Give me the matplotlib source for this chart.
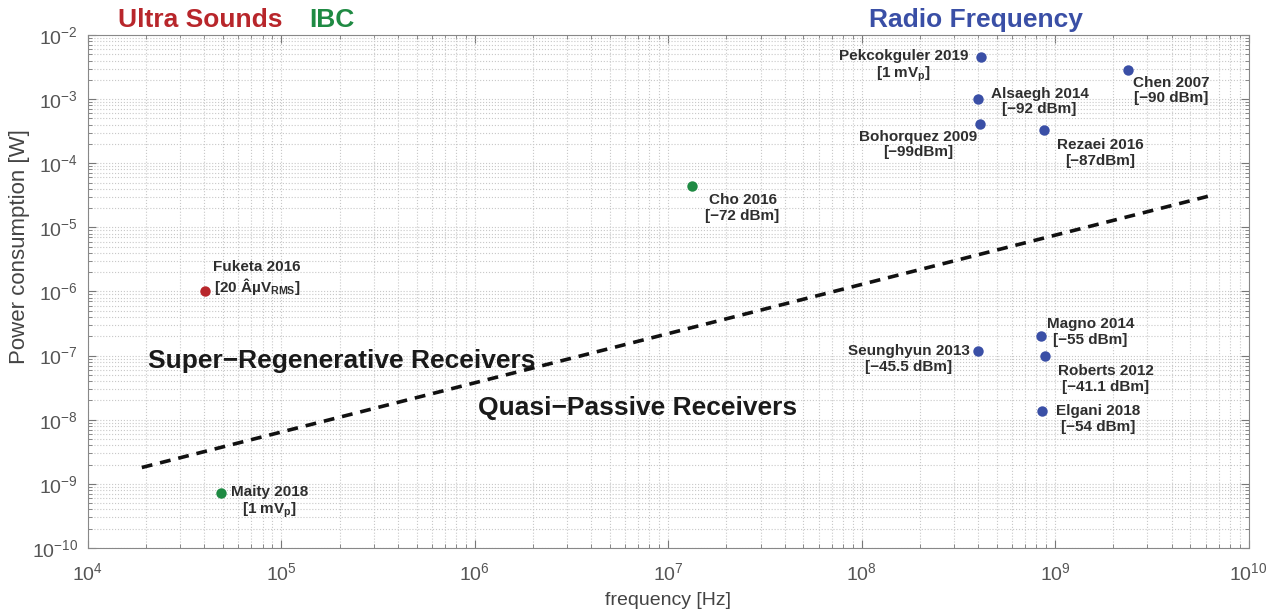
import math
import matplotlib
matplotlib.use("Agg")
import matplotlib.pyplot as plt
from matplotlib.ticker import LogLocator, FuncFormatter, NullFormatter

plt.rcParams['font.family'] = ['Liberation Sans', 'DejaVu Sans']
plt.rcParams['mathtext.fontset'] = 'custom'
plt.rcParams['mathtext.rm'] = 'Liberation Sans'
plt.rcParams['mathtext.bf'] = 'Liberation Sans:bold'
plt.rcParams['mathtext.it'] = 'Liberation Sans:italic'

# ---- data ----
us_names = ["Fuketa 2016\n[20 Âµ$\\mathbf{V}_{\\mathbf{RMS}}$]"]
us_freq = [4.03e4]
us_power = [1.0e-6]

ibc_names = ["Cho 2016\n[\u221272 dBm]", "Maity 2018\n[1 m$\\mathbf{V}_{\\mathbf{p}}$]"]
ibc_freq = [1.32e7, 4.9e4]
ibc_power = [4.4e-5, 7.2e-10]

rf_names = ["Pekcokguler 2019\n[1 m$\\mathbf{V}_{\\mathbf{p}}$]",
            "Alsaegh 2014\n[\u221292 dBm]",
            "Bohorquez 2009\n[\u221299dBm]",
            "Rezaei 2016\n[\u221287dBm]",
            "Chen 2007\n[\u221290 dBm]",
            "Seunghyun 2013\n[\u221245.5 dBm]",
            "Magno 2014\n[\u221255 dBm]",
            "Roberts 2012\n[\u221241.1 dBm]",
            "Elgani 2018\n[\u221254 dBm]"]
rf_freq = [4.12e8, 4.0e8, 4.1e8, 8.8e8, 2.37e9, 4.0e8, 8.5e8, 8.9e8, 8.6e8]
rf_power = [4.5e-3, 1.0e-3, 4.1e-4, 3.3e-4, 2.85e-3, 1.17e-7, 2.0e-7, 1.0e-7, 1.36e-8]

border_freq = [1.9e4, 6.3e9]
border_power = [1.8e-9, 3.1e-5]

# label placement: (dx, dy in points, ha, va)
us_place = [(6, -4, 'left', 'bottom')]
ibc_place = [(10, -5, 'left', 'top'), (7, 6, 'left', 'top')]
rf_place = [(-9, 6, 'right', 'top'), (9, 9, 'left', 'top'), (-2, -4, 'right', 'top'),
            (9, -6, 'left', 'top'), (4, -4, 'left', 'top'), (-6, 5, 'right', 'top'),
            (4, 14, 'left', 'top'), (9, -6, 'left', 'top'), (10, 5, 'left', 'top')]

red = '#b8262b'
green = '#1f8a43'
blue = '#3a4fa6'
txt = '#2e2e2e'
tickc = '#555555'

fig = plt.figure(figsize=(12.74, 6.14), dpi=100)
ax = fig.add_axes([0.069, 0.1075, 0.911, 0.8355])
ax.set_xscale('log')
ax.set_yscale('log')
ax.set_xlim(1e4, 1e10)
ax.set_ylim(1e-10, 1e-2)

ax.grid(True, which='both', linestyle=':', color='#c8c8c8', linewidth=0.8)
ax.set_axisbelow(True)

ax.plot(border_freq, border_power, linestyle=(0, (3, 2.2)), color='#111111', linewidth=2.6)

for names, fr, pw, place, col in [(us_names, us_freq, us_power, us_place, red),
                                  (ibc_names, ibc_freq, ibc_power, ibc_place, green),
                                  (rf_names, rf_freq, rf_power, rf_place, blue)]:
    ax.plot(fr, pw, 'o', color=col, markersize=7.5, markeredgewidth=0)
    for n, f, p, (dx, dy, ha, va) in zip(names, fr, pw, place):
        ax.annotate(n, (f, p), xytext=(dx, dy), textcoords='offset points',
                    ha=ha, va=va, multialignment='center', fontsize=11,
                    fontweight='bold', color=txt, linespacing=1.15)

# group headers
ax.text(0.0965, 1.029, "Ultra Sounds", transform=ax.transAxes, ha='center', va='center',
        fontsize=19, fontweight='bold', color=red)
ax.text(0.21, 1.029, "IBC", transform=ax.transAxes, ha='center', va='center',
        fontsize=19, fontweight='bold', color=green)
ax.text(0.765, 1.029, "Radio Frequency", transform=ax.transAxes, ha='center', va='center',
        fontsize=19, fontweight='bold', color=blue)

ax.text(0.052, 0.365, "Super\u2212Regenerative Receivers", transform=ax.transAxes,
        ha='left', va='center', fontsize=19, fontweight='bold', color='#1a1a1a')
ax.text(0.336, 0.273, "Quasi\u2212Passive Receivers", transform=ax.transAxes,
        ha='left', va='center', fontsize=19, fontweight='bold', color='#1a1a1a')

# axes styling
ax.xaxis.set_major_locator(LogLocator(base=10, numticks=20))
ax.yaxis.set_major_locator(LogLocator(base=10, numticks=20))
ax.xaxis.set_minor_locator(LogLocator(base=10, subs=range(2, 10), numticks=100))
ax.yaxis.set_minor_locator(LogLocator(base=10, subs=range(2, 10), numticks=100))
ax.xaxis.set_minor_formatter(NullFormatter())
ax.yaxis.set_minor_formatter(NullFormatter())
fmt = FuncFormatter(lambda v, pos: r'$\mathregular{10^{%d}}$' % round(math.log10(v)))
ax.xaxis.set_major_formatter(fmt)
ax.yaxis.set_major_formatter(fmt)
ax.tick_params(which='both', direction='in', top=True, right=True, colors='#777777',
               labelcolor=tickc, labelsize=14)
ax.tick_params(which='major', length=6)
ax.tick_params(which='minor', length=3)
ax.tick_params(axis='x', pad=10)
ax.tick_params(axis='y', pad=7)
for s in ax.spines.values():
    s.set_color('#888888')
    s.set_linewidth(0.8)

ax.set_xlabel("frequency [Hz]", fontsize=14, color='#444444', labelpad=6)
ax.set_ylabel("Power consumption [W]", fontsize=16, color='#444444')
ax.yaxis.set_label_coords(-0.050, 0.587)

fig.savefig("out.png", dpi=100)
